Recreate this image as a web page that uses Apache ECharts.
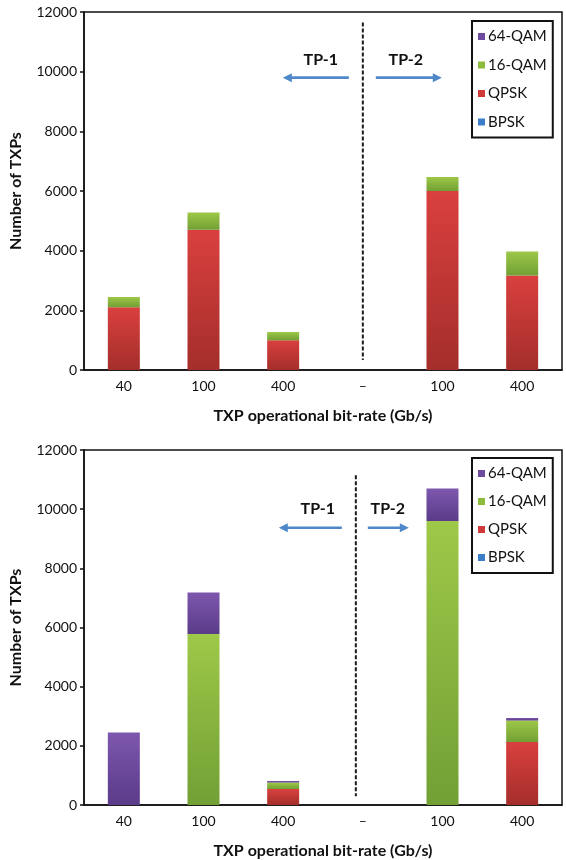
<!DOCTYPE html>
<html>
<head>
<meta charset="utf-8">
<script src="https://cdn.jsdelivr.net/npm/echarts@6/dist/echarts.min.js"></script>
<style>
html,body{margin:0;padding:0;background:#fff;}
#c{width:566px;height:860px;}
</style>
</head>
<body>
<div id="c"></div>
<script>
// ---- data ----
const categories = ['40', '100', '400', '–', '100', '400'];
const seriesNames = ['BPSK', 'QPSK', '16-QAM', '64-QAM'];
const legendOrder = ['64-QAM', '16-QAM', 'QPSK', 'BPSK'];
const yTicks = { min: 0, max: 12000, interval: 2000 };

// top chart
const topBPSK  = [0, 0, 0, null, 0, 0];
const topQPSK  = [2100, 4700, 1000, null, 6000, 3170];
const top16QAM = [350, 580, 270, null, 470, 800];
const top64QAM = [0, 0, 0, null, 0, 0];

// bottom chart
const botBPSK  = [0, 0, 0, null, 0, 0];
const botQPSK  = [0, 0, 540, null, 0, 2130];
const bot16QAM = [0, 5780, 220, null, 9600, 730];
const bot64QAM = [2450, 1400, 50, null, 1100, 80];

const annotationLabels = ['TP-1', 'TP-2'];
const xName = 'TXP operational bit-rate (Gb/s)';
const yName = 'Number of TXPs';

// ---- styles ----
const FONT = 'Lato';
const TXT = '#111';
const solid = { 'BPSK': '#3b7dc8', 'QPSK': '#cf3a38', '16-QAM': '#8dbb3c', '64-QAM': '#6e4b9e' };
const grad = {
  'BPSK':   ['#4a8ad4', '#2f6aae'],
  'QPSK':   ['#d9403e', '#a42e2b'],
  '16-QAM': ['#9dc848', '#72a035'],
  '64-QAM': ['#7d57ad', '#5b3b8a']
};
function g(name) {
  return { type: 'linear', x: 0, y: 0, x2: 0, y2: 1,
    colorStops: [{ offset: 0, color: grad[name][0] }, { offset: 1, color: grad[name][1] }] };
}

const chart = echarts.init(document.getElementById('c'), null, { renderer: 'canvas' });

const grids = [
  { left: 80, top: 12, width: 482, height: 358 },
  { left: 82, top: 450, width: 480, height: 356 }
];

function xAxisFor(i) {
  return {
    type: 'category', gridIndex: i, data: categories,
    name: xName, nameLocation: 'middle', nameGap: 38,
    nameTextStyle: { fontFamily: FONT, fontWeight: 'bold', fontSize: 16, color: TXT },
    axisLine: { lineStyle: { color: '#111', width: 1.5 } },
    axisTick: { inside: true, length: 5, lineStyle: { color: '#111', width: 1.5 } },
    axisLabel: { fontFamily: FONT, fontSize: 14, color: TXT, margin: 9 },
    splitLine: { show: false }
  };
}
function yAxisFor(i) {
  return {
    type: 'value', gridIndex: i, min: yTicks.min, max: yTicks.max, interval: yTicks.interval,
    name: yName, nameLocation: 'middle', nameGap: 60, nameRotate: 90,
    nameTextStyle: { fontFamily: FONT, fontWeight: 'bold', fontSize: 16, color: TXT },
    axisLine: { show: true, lineStyle: { color: '#111', width: 1.5 } },
    axisTick: { show: true, length: 4, lineStyle: { color: '#111', width: 1.5 } },
    axisLabel: { fontFamily: FONT, fontSize: 14, color: TXT, margin: 7,
      formatter: v => String(v) },
    splitLine: { show: false }
  };
}

const topData = { 'BPSK': topBPSK, 'QPSK': topQPSK, '16-QAM': top16QAM, '64-QAM': top64QAM };
const botData = { 'BPSK': botBPSK, 'QPSK': botQPSK, '16-QAM': bot16QAM, '64-QAM': bot64QAM };

const series = [];
[topData, botData].forEach((d, gi) => {
  seriesNames.forEach(n => {
    series.push({
      type: 'bar', name: n, stack: 'g' + gi, xAxisIndex: gi, yAxisIndex: gi,
      data: d[n], barWidth: 32,
      itemStyle: { color: g(n) },
      emphasis: { disabled: true },
      animation: false
    });
  });
});

function legendFor(top, itemGap) {
  return {
    orient: 'vertical', left: 472, top: top,
    data: legendOrder.map(n => ({ name: n, itemStyle: { color: solid[n] } })),
    icon: 'rect', itemWidth: 7, itemHeight: 7, itemGap: itemGap,
    padding: [7, 6, 7, 6],
    borderColor: '#111', borderWidth: 2,
    textStyle: { fontFamily: FONT, fontSize: 15, color: TXT, lineHeight: 17, padding: [0, 0, 0, -2] },
    selectedMode: false
  };
}

chart.setOption({
  backgroundColor: '#fff',
  animation: false,
  grid: grids.map(gr => Object.assign({ show: true, borderColor: '#111', borderWidth: 1.5, backgroundColor: 'transparent' }, gr)),
  xAxis: [xAxisFor(0), xAxisFor(1)],
  yAxis: [yAxisFor(0), yAxisFor(1)],
  legend: [legendFor(21, 11.5), legendFor(458, 11)],
  series: series
});

// ---- annotations (positioned from the axes) ----
function px(gi, idx, val) {
  return chart.convertToPixel({ xAxisIndex: gi, yAxisIndex: gi }, [idx, val]);
}
const blue = '#4f88c8';
function arrow(x1, x2, y) {
  const dir = x2 > x1 ? 1 : -1;
  const head = 9, hw = 4.5;
  return [
    { type: 'line', shape: { x1: x1, y1: y, x2: x2 - dir * head * 0.6, y2: y },
      style: { stroke: blue, lineWidth: 2.6 }, silent: true },
    { type: 'polygon', shape: { points: [[x2, y], [x2 - dir * head, y - hw], [x2 - dir * head, y + hw]] },
      style: { fill: blue }, silent: true }
  ];
}
function tpText(x, y, t) {
  return { type: 'text', x: x, y: y, silent: true,
    style: { text: t, fontFamily: FONT, fontWeight: 'bold', fontSize: 16, fill: TXT,
      align: 'center', verticalAlign: 'middle' } };
}
const cfg = [
  { gi: 0, dash: [11650, 335], dx: 0, textV: 10390, arrowV: 9800,
    t1: -42, t2: 43, la: [-14, -80], ra: [13, 79] },
  { gi: 1, dash: [11150, 300], dx: -7, textV: 10000, arrowV: 9370,
    t1: -45, t2: 25, la: [-21, -84], ra: [5, 46] }
];
const graphics = [];
cfg.forEach(c => {
  const p = px(c.gi, 3, c.arrowV);
  const cx = p[0];
  const ty = px(c.gi, 3, c.textV)[1];
  const ay = p[1];
  const d1 = px(c.gi, 3, c.dash[0])[1];
  const d2 = px(c.gi, 3, c.dash[1])[1];
  graphics.push({ type: 'line', silent: true,
    shape: { x1: cx + c.dx, y1: d1, x2: cx + c.dx, y2: d2 },
    style: { stroke: '#1a1a1a', lineWidth: 2, lineDash: [4, 2] } });
  graphics.push(tpText(cx + c.t1, ty, annotationLabels[0]));
  graphics.push(tpText(cx + c.t2, ty, annotationLabels[1]));
  arrow(cx + c.la[0], cx + c.la[1], ay).forEach(e => graphics.push(e));
  arrow(cx + c.ra[0], cx + c.ra[1], ay).forEach(e => graphics.push(e));
});
chart.setOption({ graphic: graphics });
</script>
</body>
</html>
